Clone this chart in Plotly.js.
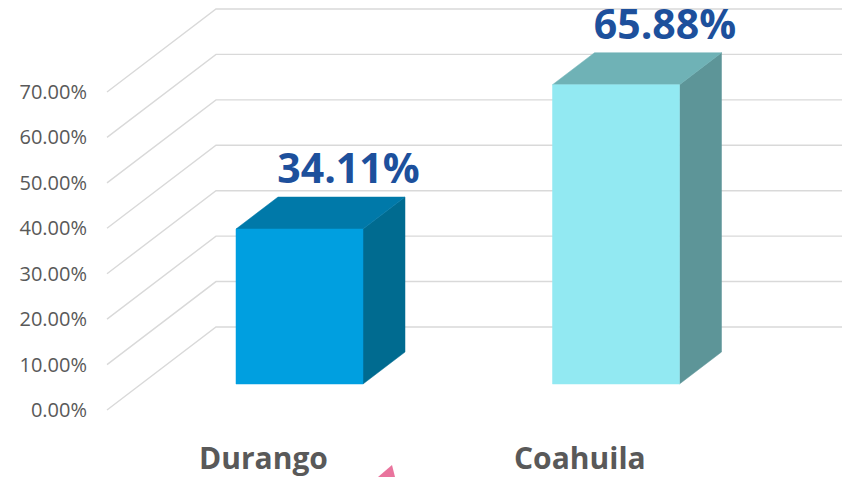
<!DOCTYPE html>
<html>
<head>
<meta charset="utf-8">
<script src="https://cdn.plot.ly/plotly-3.0.1.min.js"></script>
<style>html,body{margin:0;padding:0;background:#fff;}#chart{width:842px;height:477px;}</style>
</head>
<body>
<div id="chart"></div>
<script>
// ---- data ----
const categories = ["Durango", "Coahuila"];
const values = [34.11, 65.88];               // percent
const tickValues = [0, 10, 20, 30, 40, 50, 60, 70];
const tickLabels = ["0.00%", "10.00%", "20.00%", "30.00%", "40.00%", "50.00%", "60.00%", "70.00%"];

// ---- styling / geometry (not data) ----
const frontColors = ["#009FE0", "#92E9F2"];
const topColors   = ["#0079A9", "#6FB2B6"];
const sideColors  = ["#006B90", "#5D9598"];
const W = 842, H = 477, L = 90;
const pxPerX = 316.5, x0px = 299.5;      // category 0 centre in px
const pxPerY = 4.543, y0px = 410;        // value 0 (front floor edge)
const xr = [(L - x0px) / pxPerX, (W - x0px) / pxPerX];
const yr = [-(H - y0px) / pxPerY, y0px / pxPerY];

const halfW = 63.5 / pxPerX;             // bar half width
const base = 26 / pxPerY;                // bar front sits slightly back from floor edge
const bdx = 42 / pxPerX, bdy = 32 / pxPerY;   // bar depth offset
const wallX = (107 - x0px) / pxPerX;     // front-left edge of wall
const wdx = 109 / pxPerX, wdy = 83 / pxPerY;  // wall depth offset

const traces = [];
// perspective gridlines
tickValues.forEach(v => {
  traces.push({
    x: [wallX, wallX + wdx, xr[1] + 1],
    y: [v, v + wdy, v + wdy],
    mode: "lines", line: {color: "#D9D9D9", width: 1.4},
    hoverinfo: "skip", showlegend: false
  });
});
// bars
categories.forEach((c, i) => {
  const v = values[i];
  const xl = i - halfW, xrr = i + halfW, yb = base, yt = base + v;
  // side
  traces.push({x: [xrr, xrr + bdx, xrr + bdx, xrr, xrr], y: [yb, yb + bdy, yt + bdy, yt, yb],
    mode: "lines", fill: "toself", fillcolor: sideColors[i], line: {color: sideColors[i], width: 0.5},
    hoverinfo: "skip", showlegend: false});
  // top
  traces.push({x: [xl, xrr, xrr + bdx, xl + bdx, xl], y: [yt, yt, yt + bdy, yt + bdy, yt],
    mode: "lines", fill: "toself", fillcolor: topColors[i], line: {color: topColors[i], width: 0.5},
    hoverinfo: "skip", showlegend: false});
  // front
  traces.push({x: [xl, xrr, xrr, xl, xl], y: [yb, yb, yt, yt, yb],
    mode: "lines", fill: "toself", fillcolor: frontColors[i], line: {color: frontColors[i], width: 0.5},
    hoverinfo: "skip", showlegend: false});
});
// data labels
traces.push({
  x: categories.map((c, i) => i + 49 / pxPerX),
  y: values.map(v => base + v + 12.4),
  text: values.map(v => v.toFixed(2) + "%"),
  mode: "text", textposition: "middle center", cliponaxis: false,
  textfont: {family: "Open Sans", size: 41, color: "#1D509C", weight: 700},
  hoverinfo: "skip", showlegend: false
});

const annotations = categories.map((c, i) => ({
  x: i - 36 / pxPerX, xref: "x",
  y: 1 - 457 / H, yref: "paper",
  text: c, showarrow: false, xanchor: "center", yanchor: "middle",
  font: {family: "Open Sans", size: 30, color: "#595959", weight: 700}
}));

const layout = {
  width: W, height: H,
  margin: {l: L, r: 0, t: 0, b: 0},
  paper_bgcolor: "#fff", plot_bgcolor: "#fff",
  showlegend: false,
  xaxis: {range: xr, visible: false, fixedrange: true},
  yaxis: {range: yr, tickvals: tickValues, ticktext: tickLabels, showgrid: false, zeroline: false,
    showline: false, ticks: "", fixedrange: true, ticklabelstandoff: 2,
    tickfont: {family: "Open Sans", size: 20, color: "#595959"}},
  annotations: annotations,
  shapes: [{
    type: "path", xref: "paper", yref: "paper",
    path: `M ${(392 - L) / (W - L)} ${1 - 465 / H} L ${(378 - L) / (W - L)} 0 L ${(395 - L) / (W - L)} 0 Z`,
    fillcolor: "#E2457C", line: {width: 0}, opacity: 0.75
  }]
};

Plotly.newPlot("chart", traces, layout, {displayModeBar: false, staticPlot: true});
</script>
</body>
</html>
